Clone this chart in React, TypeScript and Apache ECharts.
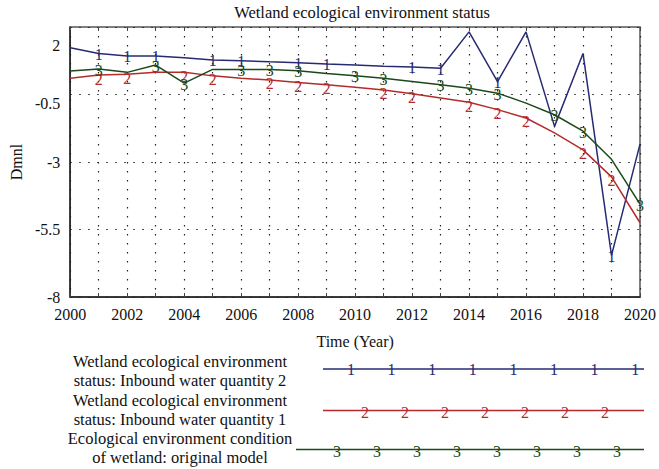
import React, { useEffect, useRef } from "react";
import * as echarts from "echarts";

const years = [2000, 2001, 2002, 2003, 2004, 2005, 2006, 2007, 2008, 2009, 2010, 2011, 2012, 2013, 2014, 2015, 2016, 2017, 2018, 2019, 2020];
const inbound2 = [1.23, 1.02, 0.93, 0.93, 0.86, 0.78, 0.75, 0.71, 0.68, 0.63, 0.59, 0.55, 0.52, 0.47, 1.82, -0.02, 1.82, -1.68, 1.02, -6.46, -2.34];
const inbound1 = [0.1, 0.22, 0.25, 0.32, 0.32, 0.19, 0.1, 0.04, -0.06, -0.14, -0.23, -0.33, -0.47, -0.63, -0.79, -1.06, -1.37, -1.92, -2.55, -3.55, -5.25];
const original = [0.37, 0.44, 0.32, 0.59, -0.08, 0.43, 0.43, 0.43, 0.38, 0.28, 0.19, 0.1, -0.02, -0.14, -0.27, -0.45, -0.82, -1.25, -1.86, -2.9, -4.56];

const marks1 = [1, 2, 3, 5, 6, 8, 9, 12, 13, 15, 19];
const marks2 = [1, 2, 4, 5, 7, 8, 9, 11, 12, 14, 15, 16, 18, 19];
const marks3 = [1, 3, 4, 6, 7, 8, 10, 11, 13, 14, 15, 17, 18, 20];

const yTicks = [2, -0.5, -3, -5.5, -8];
const title = "Wetland ecological environment status";
const legendLabels = [
  ["Wetland ecological environment", "status: Inbound water quantity 2"],
  ["Wetland ecological environment", "status: Inbound water quantity 1"],
  ["Ecological environment condition", "of wetland: original model"],
];
const seriesTags = ["1", "2", "3"];

const FONT = "'Liberation Serif', 'Times New Roman', serif";
const COLORS = ["#272b72", "#b52b2b", "#1a4a1a"];

export default function App() {
  const ref = useRef<HTMLDivElement>(null);
  useEffect(() => {
    if (!ref.current) return;
    const chart = echarts.init(ref.current, undefined, { renderer: "svg" });
    const datasets = [inbound2, inbound1, original];
    const markIdx = [marks1, marks2, marks3];

    const lineSeries = datasets.map((d, i) => ({
      type: "line",
      data: years.map((y, k) => [y, d[k]]),
      showSymbol: false,
      symbol: "none",
      lineStyle: { color: COLORS[i], width: 1.5 },
      itemStyle: { color: COLORS[i] },
      z: 3,
    }));
    const tagSeries = datasets.map((d, i) => ({
      type: "scatter",
      data: markIdx[i].map((k) => [years[k], d[k]]),
      symbol: "circle",
      symbolSize: 0.1,
      itemStyle: { color: COLORS[i], opacity: 1 },
      emphasis: { disabled: true },
      label: {
        show: true,
        position: "inside",
        formatter: seriesTags[i],
        color: COLORS[i],
        opacity: 1,
        textBorderWidth: 0,
        fontFamily: FONT,
        fontSize: 16,
        offset: i === 1 ? [0, 4] : [0, 1],
      },
      z: 4,
    }));

    const legendRows = [
      { y: 369, x0: 323, first: 351, n: 8, step: 40.6, textY: [361, 380] },
      { y: 410.5, x0: 323, first: 365, n: 7, step: 40, textY: [400, 419] },
      { y: 449.5, x0: 296, first: 337, n: 8, step: 40, textY: [438, 457] },
    ];
    const graphics: any[] = [];
    legendRows.forEach((r, i) => {
      legendLabels[i].forEach((t, j) => {
        graphics.push({
          type: "text",
          x: 180,
          y: r.textY[j],
          style: {
            text: t,
            fill: "#111",
            font: `16.5px ${FONT}`,
            textAlign: "center",
            textVerticalAlign: "middle",
          },
        });
      });
      graphics.push({
        type: "line",
        shape: { x1: r.x0, y1: r.y, x2: 644, y2: r.y },
        style: { stroke: COLORS[i], lineWidth: 1.5 },
      });
      for (let k = 0; k < r.n; k++) {
        graphics.push({
          type: "text",
          x: r.first + k * r.step,
          y: r.y + (i === 0 ? 0 : 1.5),
          style: {
            text: seriesTags[i],
            fill: COLORS[i],
            font: `16px ${FONT}`,
            textAlign: "center",
            textVerticalAlign: "middle",
          },
        });
      }
    });

    const dotted = { color: "#222", width: 1.2, type: [1.5, 7.5] };

    chart.setOption({
      animation: false,
      backgroundColor: "#fff",
      textStyle: { fontFamily: FONT },
      title: {
        text: title,
        left: 357,
        textAlign: "center",
        top: -1,
        textStyle: { fontFamily: FONT, fontSize: 16.5, fontWeight: "normal", color: "#111" },
      },
      grid: {
        left: 67,
        right: 15,
        top: 25,
        bottom: 172,
        show: true,
        borderColor: "#555",
        borderWidth: 1.5,
        backgroundColor: "#fff",
      },
      xAxis: [
        {
          type: "value",
          min: 2000,
          max: 2020,
          interval: 1,
          name: "Time (Year)",
          nameLocation: "middle",
          nameGap: 36,
          nameTextStyle: { fontFamily: FONT, fontSize: 16, color: "#111" },
          axisLine: { show: true, onZero: false, lineStyle: { color: "#222", width: 1.5 } },
          axisTick: { show: true, inside: true, length: 4, lineStyle: { color: "#444" } },
          axisLabel: {
            margin: 9,
            fontFamily: FONT,
            fontSize: 16,
            color: "#111",
            formatter: (v: number) => (v % 2 === 0 ? String(v) : ""),
          },
          splitLine: { show: true, lineStyle: dotted },
        },
        {
          type: "value",
          position: "top",
          min: 2000,
          max: 2020,
          interval: 1,
          axisLine: { show: false, onZero: false },
          axisTick: { show: true, inside: true, length: 4, lineStyle: { color: "#444" } },
          axisLabel: { show: false },
          splitLine: { show: false },
        },
      ],
      yAxis: {
        type: "value",
        min: -8,
        max: 2,
        interval: 2.5,
        name: "Dmnl",
        nameLocation: "middle",
        nameRotate: 90,
        nameGap: 46,
        nameTextStyle: { fontFamily: FONT, fontSize: 16, color: "#111" },
        axisLine: { show: true, onZero: false, lineStyle: { color: "#222", width: 1.5 } },
        axisTick: { show: false },
        axisLabel: {
          margin: 10,
          fontFamily: FONT,
          fontSize: 16,
          lineHeight: 18,
          color: "#111",
          formatter: (v: number) => {
            const s = String(v);
            if (v === yTicks[0]) return "\n\n" + s;
            if (v === yTicks[1]) return "\n" + s;
            return s;
          },
        },
        splitLine: { show: true, lineStyle: dotted },
      },
      series: [...lineSeries, ...tagSeries],
      graphic: graphics,
    });
    return () => chart.dispose();
  }, []);
  return (
    <div
      ref={ref}
      style={{ position: "fixed", left: 0, top: 0, width: 659, height: 469 }}
    />
  );
}
